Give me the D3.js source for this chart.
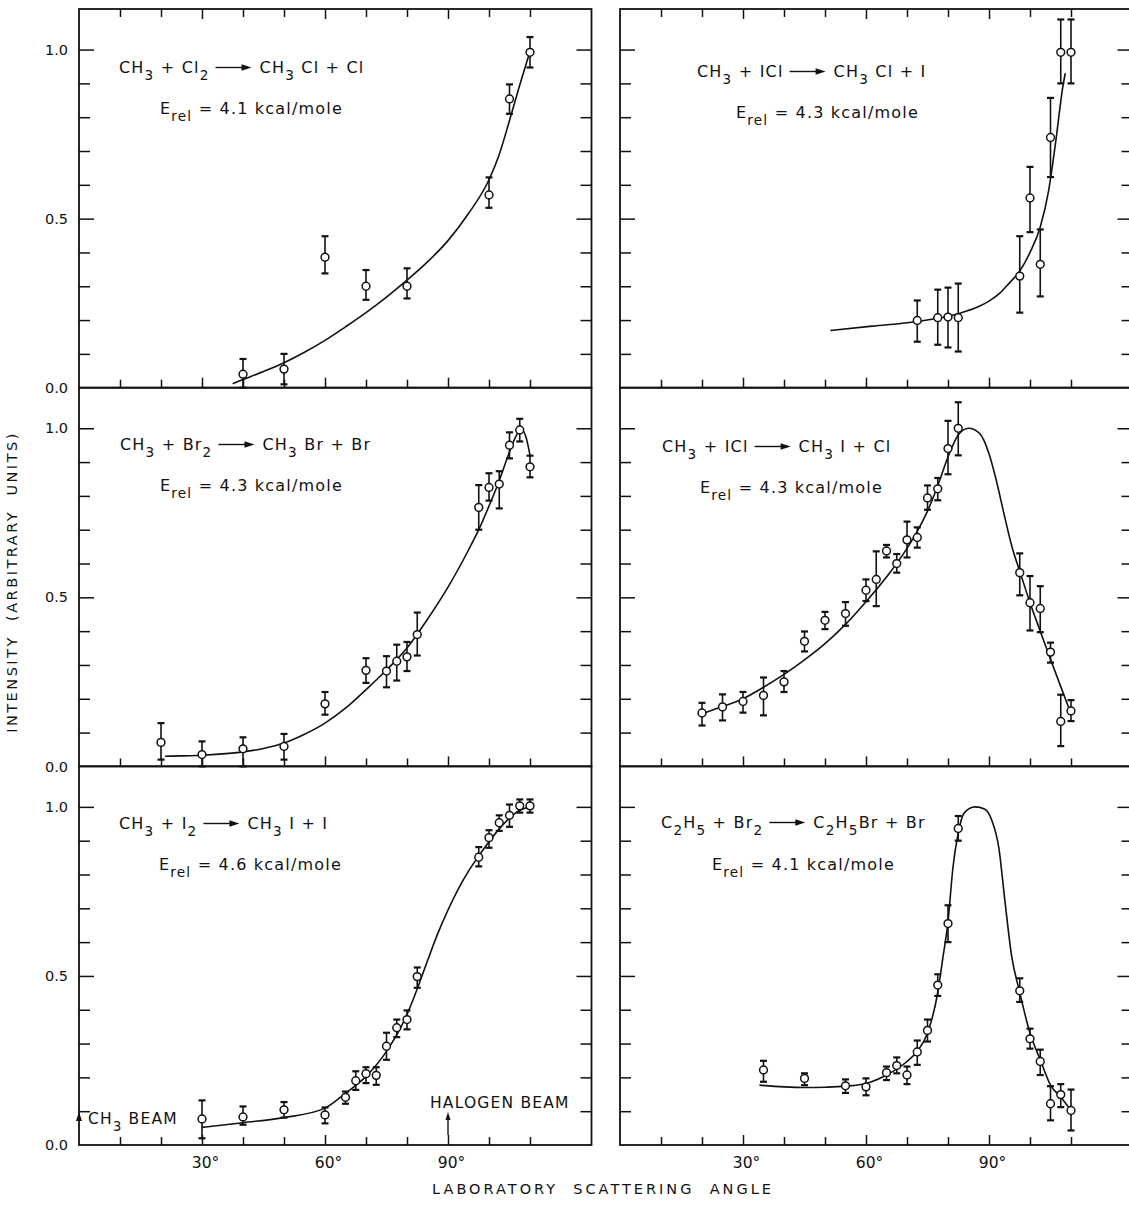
<!DOCTYPE html>
<html>
<head>
<meta charset="utf-8">
<script src="https://cdn.jsdelivr.net/npm/d3@7"></script>
<style>
  body { margin: 0; background: #fff; }
  text { font-family: "DejaVu Sans", sans-serif; fill: #111; white-space: pre; }
</style>
</head>
<body>
<div id="chart"></div>
<script>
// CONSTANTS
const WIDTH = 1129;
const HEIGHT = 1211;
const PX_PER_DEG = 4.1;
const X_MAX = 125;
const Y_MAX = 1.12;
const COL_X = [79, 620];
const ROW_TOP = [9, 387.7, 766.3];
const ROW_H = 378.7;
const INK = "#111";

// DATA (angle in degrees, intensity in arbitrary units)
// CH3 + Cl2
const cl2Angle = [40, 50, 60, 70, 80, 100, 105, 110];
const cl2Value = [0.04, 0.055, 0.386, 0.30, 0.30, 0.57, 0.854, 0.992];
const cl2Lo = [0.0, 0.01, 0.338, 0.26, 0.264, 0.532, 0.81, 0.947];
const cl2Hi = [0.085, 0.10, 0.448, 0.348, 0.353, 0.622, 0.897, 1.037];
const cl2FitAngle = [37.5, 40, 45, 50, 55, 60, 65, 70, 75, 80, 85, 90, 95, 100, 102.5, 105, 107.5, 110];
const cl2FitValue = [0.012, 0.024, 0.048, 0.074, 0.105, 0.14, 0.18, 0.222, 0.268, 0.318, 0.372, 0.435, 0.515, 0.615, 0.69, 0.79, 0.895, 0.995];

// CH3 + ICl -> CH3Cl + I
const iclClAngle = [72.5, 77.5, 80, 82.5, 97.5, 100, 102.5, 105, 107.5, 110];
const iclClValue = [0.199, 0.207, 0.209, 0.207, 0.33, 0.561, 0.365, 0.74, 0.992, 0.992];
const iclClLo = [0.136, 0.127, 0.119, 0.107, 0.222, 0.46, 0.27, 0.623, 0.9, 0.9];
const iclClHi = [0.258, 0.29, 0.296, 0.308, 0.448, 0.653, 0.468, 0.857, 1.089, 1.089];
const iclClFitAngle = [51.3, 61.5, 72.5, 82.5, 87.5, 90, 92.5, 95, 97.5, 100, 102.5, 104.5, 106.3, 108, 108.6];
const iclClFitValue = [0.169, 0.182, 0.196, 0.219, 0.24, 0.256, 0.278, 0.31, 0.345, 0.40, 0.475, 0.58, 0.73, 0.89, 0.93];

// CH3 + Br2
const br2Angle = [20, 30, 40, 50, 60, 70, 75, 77.5, 80, 82.5, 97.5, 100, 102.5, 105, 107.5, 110];
const br2Value = [0.071, 0.035, 0.052, 0.059, 0.185, 0.284, 0.282, 0.311, 0.324, 0.39, 0.766, 0.825, 0.835, 0.95, 0.995, 0.886];
const br2Lo = [0.02, 0.0, 0.0, 0.02, 0.153, 0.247, 0.234, 0.254, 0.282, 0.328, 0.70, 0.786, 0.763, 0.911, 0.961, 0.855];
const br2Hi = [0.128, 0.074, 0.086, 0.096, 0.22, 0.32, 0.326, 0.36, 0.368, 0.455, 0.832, 0.867, 0.873, 0.988, 1.028, 0.919];
const br2FitAngle = [21, 25, 30, 35, 40, 45, 50, 55, 60, 65, 70, 75, 80, 85, 90, 95, 97.5, 100, 102.5, 105, 107, 108, 109, 110];
const br2FitValue = [0.03, 0.031, 0.033, 0.037, 0.043, 0.053, 0.069, 0.095, 0.128, 0.172, 0.227, 0.285, 0.35, 0.435, 0.53, 0.64, 0.70, 0.77, 0.845, 0.93, 0.985, 0.995, 0.975, 0.92];

// CH3 + ICl -> CH3I + Cl
const iclIAngle = [20, 25, 30, 35, 40, 45, 50, 55, 60, 62.5, 65, 67.5, 70, 72.5, 75, 77.5, 80, 82.5, 97.5, 100, 102.5, 105, 107.5, 110];
const iclIValue = [0.158, 0.176, 0.192, 0.21, 0.25, 0.37, 0.432, 0.452, 0.521, 0.553, 0.637, 0.60, 0.67, 0.677, 0.794, 0.821, 0.94, 1.0, 0.573, 0.484, 0.467, 0.338, 0.133, 0.164];
const iclILo = [0.121, 0.136, 0.159, 0.151, 0.22, 0.34, 0.406, 0.416, 0.489, 0.474, 0.618, 0.573, 0.618, 0.647, 0.759, 0.787, 0.864, 0.92, 0.506, 0.402, 0.397, 0.307, 0.06, 0.134];
const iclIHi = [0.188, 0.213, 0.22, 0.263, 0.282, 0.399, 0.457, 0.486, 0.553, 0.636, 0.655, 0.628, 0.724, 0.707, 0.831, 0.853, 1.022, 1.077, 0.63, 0.563, 0.533, 0.366, 0.212, 0.196];
const iclIFitAngle = [20, 25, 30, 35, 40, 45, 50, 55, 60, 65, 70, 72.5, 75, 77.5, 80, 82.5, 85, 87.7, 90, 91.7, 93.5, 95.7, 97.7, 100, 102.5, 105, 107.5, 110];
const iclIFitValue = [0.156, 0.177, 0.20, 0.234, 0.272, 0.315, 0.363, 0.42, 0.487, 0.56, 0.645, 0.695, 0.755, 0.83, 0.915, 0.98, 1.0, 0.985, 0.925, 0.85, 0.755, 0.645, 0.57, 0.484, 0.40, 0.317, 0.236, 0.156];

// CH3 + I2
const i2Angle = [30, 40, 50, 60, 65, 67.5, 70, 72.5, 75, 77.5, 80, 82.5, 97.5, 100, 102.5, 105, 107.5, 110];
const i2Value = [0.077, 0.083, 0.104, 0.089, 0.141, 0.19, 0.211, 0.206, 0.292, 0.347, 0.371, 0.498, 0.851, 0.909, 0.953, 0.975, 1.003, 1.003];
const i2Lo = [0.02, 0.06, 0.081, 0.064, 0.122, 0.163, 0.183, 0.178, 0.252, 0.319, 0.342, 0.465, 0.824, 0.879, 0.929, 0.941, 0.983, 0.983];
const i2Hi = [0.132, 0.114, 0.127, 0.111, 0.158, 0.218, 0.23, 0.23, 0.332, 0.371, 0.398, 0.525, 0.881, 0.931, 0.975, 1.007, 1.022, 1.022];
const i2FitAngle = [30, 40, 50, 60, 65, 70, 75, 80, 82.5, 85, 87.5, 90, 92.5, 95, 97.5, 100, 102.5, 105, 107.5, 110];
const i2FitValue = [0.052, 0.066, 0.081, 0.109, 0.153, 0.203, 0.277, 0.386, 0.462, 0.545, 0.625, 0.695, 0.757, 0.81, 0.855, 0.897, 0.935, 0.967, 0.99, 1.0];

// C2H5 + Br2
const etBrAngle = [35, 45, 55, 60, 65, 67.5, 70, 72.5, 75, 77.5, 80, 82.5, 97.5, 100, 102.5, 105, 107.5, 110];
const etBrValue = [0.222, 0.197, 0.175, 0.172, 0.214, 0.235, 0.207, 0.275, 0.339, 0.473, 0.655, 0.936, 0.456, 0.314, 0.247, 0.122, 0.149, 0.102];
const etBrLo = [0.187, 0.177, 0.154, 0.147, 0.192, 0.212, 0.18, 0.237, 0.306, 0.441, 0.60, 0.90, 0.423, 0.285, 0.207, 0.073, 0.112, 0.043];
const etBrHi = [0.249, 0.212, 0.194, 0.197, 0.232, 0.259, 0.232, 0.309, 0.371, 0.505, 0.709, 0.973, 0.493, 0.344, 0.282, 0.174, 0.18, 0.164];
const etBrFitAngle = [34, 40, 45, 50, 55, 60, 65, 70, 72.5, 75, 77.5, 78.7, 80, 81.2, 82.5, 84, 86.6, 89, 90.6, 92.4, 93.9, 95.5, 97.5, 100, 102.5, 105, 107.5, 110];
const etBrFitValue = [0.177, 0.172, 0.17, 0.171, 0.174, 0.182, 0.207, 0.247, 0.277, 0.331, 0.451, 0.55, 0.66, 0.82, 0.923, 0.983, 1.0, 0.993, 0.963, 0.879, 0.72, 0.56, 0.451, 0.331, 0.252, 0.177, 0.142, 0.102];

const yMinorTicks = [0.1, 0.2, 0.3, 0.4, 0.6, 0.7, 0.8, 0.9];
const yMajorTicks = [0.5, 1.0];
const yTickLabels = [0.0, 0.5, 1.0];
const xMinorTicks = [10, 20, 40, 50, 70, 80, 100, 110];
const xMajorTicks = [30, 60, 90];
const xTickLabels = [30, 60, 90];

const panels = [
  { col: 0, row: 0, angle: cl2Angle, value: cl2Value, lo: cl2Lo, hi: cl2Hi, fitA: cl2FitAngle, fitV: cl2FitValue,
    eq: ["CH{3} + Cl{2}", "CH{3} Cl + Cl"], erel: "4.1", eqAt: [119, 73], eAt: [160, 114] },
  { col: 1, row: 0, angle: iclClAngle, value: iclClValue, lo: iclClLo, hi: iclClHi, fitA: iclClFitAngle, fitV: iclClFitValue,
    eq: ["CH{3} + ICl", "CH{3} Cl + I"], erel: "4.3", eqAt: [697, 77], eAt: [736, 118] },
  { col: 0, row: 1, angle: br2Angle, value: br2Value, lo: br2Lo, hi: br2Hi, fitA: br2FitAngle, fitV: br2FitValue,
    eq: ["CH{3} + Br{2}", "CH{3} Br + Br"], erel: "4.3", eqAt: [120, 450], eAt: [160, 491] },
  { col: 1, row: 1, angle: iclIAngle, value: iclIValue, lo: iclILo, hi: iclIHi, fitA: iclIFitAngle, fitV: iclIFitValue,
    eq: ["CH{3} + ICl", "CH{3} I + Cl"], erel: "4.3", eqAt: [662, 452], eAt: [700, 493] },
  { col: 0, row: 2, angle: i2Angle, value: i2Value, lo: i2Lo, hi: i2Hi, fitA: i2FitAngle, fitV: i2FitValue,
    eq: ["CH{3} + I{2}", "CH{3} I + I"], erel: "4.6", eqAt: [119, 829], eAt: [159, 870] },
  { col: 1, row: 2, angle: etBrAngle, value: etBrValue, lo: etBrLo, hi: etBrHi, fitA: etBrFitAngle, fitV: etBrFitValue,
    eq: ["C{2}H{5} + Br{2}", "C{2}H{5}Br + Br"], erel: "4.1", eqAt: [661, 828], eAt: [712, 870] }
];

const svg = d3.select("#chart")
  .append("svg")
  .attr("width", WIDTH)
  .attr("height", HEIGHT);

// text with {subscripts}
const richText = (g, x, y, str, size, spacing) => {
  const t = g.append("text")
    .attr("x", x)
    .attr("y", y)
    .attr("font-size", size)
    .attr("letter-spacing", spacing);
  let down = false;
  str.split(/(\{[^}]*\})/).filter(s => s.length).forEach(s => {
    if (s[0] === "{") {
      t.append("tspan").attr("dy", down ? 0 : 7).attr("font-size", size * 0.85).text(s.slice(1, -1));
      down = true;
    } else {
      t.append("tspan").attr("dy", down ? -7 : 0).text(s);
      down = false;
    }
  });
  return t;
};

const drawArrow = (g, x1, x2, y) => {
  g.append("line").attr("x1", x1).attr("x2", x2 - 6).attr("y1", y).attr("y2", y)
    .attr("stroke", INK).attr("stroke-width", 1.4);
  g.append("path")
    .attr("d", `M${x2},${y} L${x2 - 10},${y - 3.2} L${x2 - 10},${y + 3.2} Z`)
    .attr("fill", INK);
};

const cleanAxis = sel => sel.call(a => a.select(".domain").remove())
  .call(a => a.selectAll(".tick line").attr("stroke", INK).attr("stroke-width", 1.5));

panels.forEach(p => {
  const x0 = COL_X[p.col];
  const x = d3.scaleLinear().domain([0, X_MAX]).range([x0, x0 + X_MAX * PX_PER_DEG]);
  const y = d3.scaleLinear().domain([0, Y_MAX]).range([ROW_TOP[p.row] + ROW_H, ROW_TOP[p.row]]);
  const g = svg.append("g");
  const [xl, xr] = x.range();
  const [yb, yt] = y.range();

  // ticks, all pointing inward
  const tickSets = [
    [d3.axisLeft(y), yMinorTicks, 11, `translate(${xl},0)`],
    [d3.axisLeft(y), yMajorTicks, 15, `translate(${xl},0)`],
    [d3.axisRight(y), yMinorTicks, 11, `translate(${xr},0)`],
    [d3.axisRight(y), yMajorTicks, 15, `translate(${xr},0)`],
    [d3.axisBottom(x), xMinorTicks, 8, `translate(0,${yb})`],
    [d3.axisBottom(x), xMajorTicks, 10, `translate(0,${yb})`]
  ];
  if (p.row === 0) {
    tickSets.push([d3.axisTop(x), xMinorTicks, 8, `translate(0,${yt})`]);
    tickSets.push([d3.axisTop(x), xMajorTicks, 10, `translate(0,${yt})`]);
  }
  tickSets.forEach(([axis, vals, len, tr]) => {
    g.append("g").attr("transform", tr)
      .call(axis.tickValues(vals).tickSize(-len).tickFormat(""))
      .call(cleanAxis);
  });

  // frame
  g.append("rect")
    .attr("x", xl).attr("y", yt)
    .attr("width", xr - xl).attr("height", yb - yt)
    .attr("fill", "none").attr("stroke", INK).attr("stroke-width", 1.8);

  // y tick labels on the left column
  if (p.col === 0) {
    g.append("g").attr("transform", `translate(${xl},0)`)
      .call(d3.axisLeft(y).tickValues(yTickLabels).tickSize(0).tickPadding(11).tickFormat(d3.format(".1f")))
      .call(a => a.select(".domain").remove())
      .call(a => a.selectAll("text").attr("font-size", 14.5).attr("font-family", "DejaVu Sans").attr("fill", INK));
  }
  // x tick labels on the bottom row
  if (p.row === 2) {
    g.append("g").attr("transform", `translate(3,${yb})`)
      .call(d3.axisBottom(x).tickValues(xTickLabels).tickSize(0).tickPadding(12).tickFormat(d => d + "°"))
      .call(a => a.select(".domain").remove())
      .call(a => a.selectAll("text").attr("font-size", 15.5).attr("font-family", "DejaVu Sans").attr("fill", INK));
  }

  // fitted curve
  const fit = p.fitA.map((a, i) => [a, p.fitV[i]]);
  g.append("path")
    .datum(fit)
    .attr("d", d3.line().x(d => x(d[0])).y(d => y(d[1])).curve(d3.curveMonotoneX))
    .attr("fill", "none").attr("stroke", INK).attr("stroke-width", 1.6);

  // error bars and points
  const pts = p.angle.map((a, i) => ({ a, v: p.value[i], lo: p.lo[i], hi: p.hi[i] }));
  const bars = g.append("g").attr("stroke", INK).attr("stroke-width", 1.6);
  bars.selectAll(".bar").data(pts).enter().append("line")
    .attr("x1", d => x(d.a)).attr("x2", d => x(d.a))
    .attr("y1", d => y(d.lo)).attr("y2", d => y(d.hi));
  ["lo", "hi"].forEach(k => {
    bars.selectAll(".cap-" + k).data(pts).enter().append("line")
      .attr("x1", d => x(d.a) - 3.5).attr("x2", d => x(d.a) + 3.5)
      .attr("y1", d => y(d[k])).attr("y2", d => y(d[k]))
      .attr("stroke-width", 2.2);
  });
  g.selectAll("circle").data(pts).enter().append("circle")
    .attr("cx", d => x(d.a)).attr("cy", d => y(d.v)).attr("r", 3.9)
    .attr("fill", "#fff").attr("stroke", INK).attr("stroke-width", 1.5);

  // reaction label
  const left = richText(g, p.eqAt[0], p.eqAt[1], p.eq[0], 16, 1.2);
  const lEnd = p.eqAt[0] + left.node().getComputedTextLength();
  drawArrow(g, lEnd + 6, lEnd + 42, p.eqAt[1] - 5.5);
  richText(g, lEnd + 50, p.eqAt[1], p.eq[1], 16, 1.2);
  richText(g, p.eAt[0], p.eAt[1], `E{rel} = ${p.erel} kcal/mole`, 16, 1.2);

  // beam markers
  if (p.col === 0 && p.row === 2) {
    g.append("path")
      .attr("d", `M${x(0)},${yb - 33} L${x(0) - 3},${yb - 24} L${x(0) + 3},${yb - 24} Z`)
      .attr("fill", INK);
    richText(g, x(0) + 9, yb - 21, "CH{3} BEAM", 15.5, 1.2);
    g.append("line").attr("x1", x(90)).attr("x2", x(90)).attr("y1", yb - 10).attr("y2", yb - 28)
      .attr("stroke", INK).attr("stroke-width", 1.4);
    g.append("path")
      .attr("d", `M${x(90)},${yb - 33} L${x(90) - 2.5},${yb - 25} L${x(90) + 2.5},${yb - 25} Z`)
      .attr("fill", INK);
    g.append("text").attr("x", x(90) - 18).attr("y", yb - 37)
      .attr("font-size", 15.5).attr("letter-spacing", 1.2).text("HALOGEN BEAM");
  }
});

// axis titles
svg.append("text")
  .attr("transform", "translate(17,582) rotate(-90)")
  .attr("text-anchor", "middle")
  .attr("font-size", 14.5)
  .attr("letter-spacing", 2.5)
  .text("INTENSITY  (ARBITRARY  UNITS)");

svg.append("text")
  .attr("x", 603)
  .attr("y", 1194)
  .attr("text-anchor", "middle")
  .attr("font-size", 14.5)
  .attr("letter-spacing", 3)
  .text("LABORATORY  SCATTERING  ANGLE");
</script>
</body>
</html>
